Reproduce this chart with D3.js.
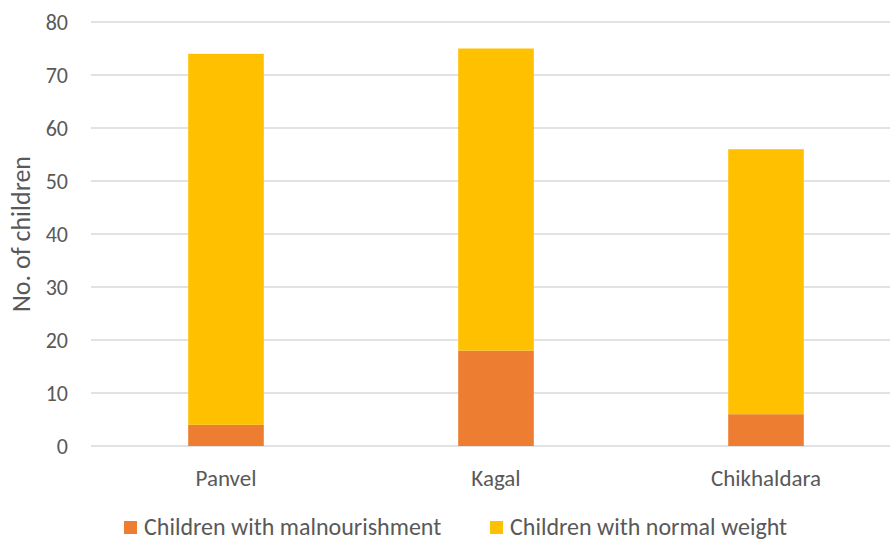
<!DOCTYPE html>
<html>
<head>
<meta charset="utf-8">
<script src="https://cdn.jsdelivr.net/npm/d3@7"></script>
<style>
  html, body { margin: 0; padding: 0; background: #fff; }
  svg text { font-family: Carlito, Lato, "Open Sans", sans-serif; fill: #595959; }
</style>
</head>
<body>
<svg id="chart" width="890" height="542"></svg>
<script>
// Children weight status by block
const categories = ["Panvel", "Kagal", "Chikhaldara"];
const malnourished = [4, 18, 6];
const normalWeight = [70, 57, 50];
const seriesNames = ["Children with malnourishment", "Children with normal weight"];
const seriesColors = ["#ED7D31", "#FFC000"];
const yTicks = [0, 10, 20, 30, 40, 50, 60, 70, 80];

const FONT = "Carlito, Lato, 'Open Sans', sans-serif";
const svg = d3.select("#chart");
const margin = { left: 91, top: 22, bottom: 96 };
const plotW = 810, plotH = 542 - margin.top - margin.bottom;

const x = d3.scaleBand().domain(categories).range([margin.left, margin.left + plotW]).paddingInner(0.72).paddingOuter(0.36);
const y = d3.scaleLinear().domain([0, 80]).range([margin.top + plotH, margin.top]);

// gridlines
svg.append("g").selectAll("line").data(yTicks).join("line")
  .attr("x1", margin.left).attr("x2", 890)
  .attr("y1", d => y(d)).attr("y2", d => y(d))
  .attr("stroke", "#D9D9D9").attr("stroke-width", 1.3);

// y axis labels
const yAxis = d3.axisLeft(y).tickValues(yTicks).tickSize(0).tickPadding(0);
const yg = svg.append("g").attr("transform", `translate(68,0)`).call(yAxis);
yg.select(".domain").remove();
yg.selectAll("text").attr("font-size", 22).attr("dy", "0.36em").style("fill", "#595959").attr("font-family", FONT);

// stacked bars
const rows = categories.map((c, i) => ({ cat: c, m: malnourished[i], n: normalWeight[i] }));
const stack = d3.stack().keys(["m", "n"])(rows);
stack.forEach((layer, k) => {
  svg.append("g").selectAll("rect").data(layer).join("rect")
    .attr("x", d => x(d.data.cat))
    .attr("width", x.bandwidth())
    .attr("y", d => y(d[1]))
    .attr("height", d => y(d[0]) - y(d[1]))
    .attr("fill", seriesColors[k]);
});

// category labels
const xAxis = d3.axisBottom(x).tickSize(0).tickPadding(0);
const xg = svg.append("g").attr("transform", `translate(0,486)`).call(xAxis);
xg.select(".domain").remove();
xg.selectAll("text").attr("font-size", 23).attr("y", 0).attr("dy", 0).style("fill", "#595959").attr("font-family", FONT);

// y axis title
svg.append("text")
  .attr("transform", `translate(30,${y(40)}) rotate(-90)`)
  .attr("text-anchor", "middle")
  .attr("font-size", 26)
  .text("No. of children");

// legend
const legendX = [124, 490];
seriesNames.forEach((name, i) => {
  const g = svg.append("g").attr("transform", `translate(${legendX[i]},521)`);
  g.append("rect").attr("width", 13).attr("height", 13).attr("fill", seriesColors[i]);
  g.append("text").attr("x", 20).attr("y", 14).attr("font-size", 24).text(name);
});
</script>
</body>
</html>
